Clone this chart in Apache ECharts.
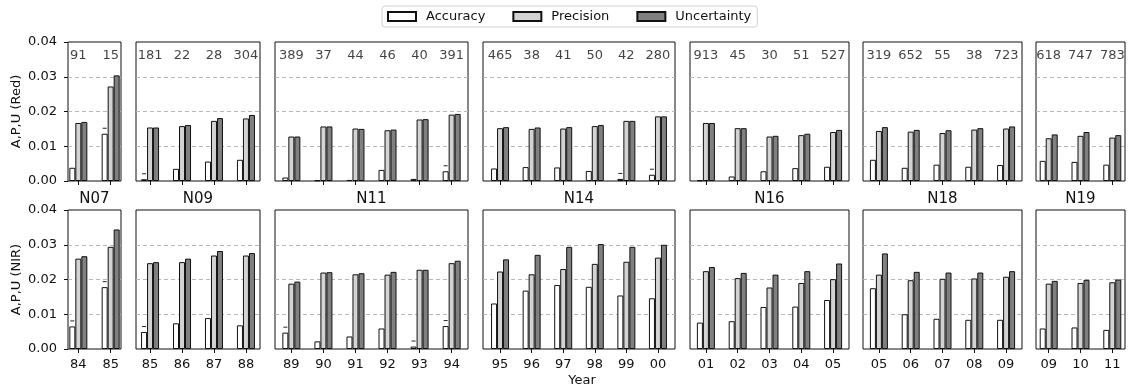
<!DOCTYPE html>
<html>
<head>
<meta charset="utf-8">
<script src="https://cdn.jsdelivr.net/npm/echarts@6/dist/echarts.min.js"></script>
<style>
  html, body { margin: 0; padding: 0; background: #fff; }
  #chart { width: 1133px; height: 390px; }
</style>
</head>
<body>
<div id="chart"></div>
<script>
// Sensors and the years each one covers
const satellites = ['N07', 'N09', 'N11', 'N14', 'N16', 'N18', 'N19'];
const yearLabels = [
  ['84', '85'],
  ['85', '86', '87', '88'],
  ['89', '90', '91', '92', '93', '94'],
  ['95', '96', '97', '98', '99', '00'],
  ['01', '02', '03', '04', '05'],
  ['05', '06', '07', '08', '09'],
  ['09', '10', '11']
];
// Number of match-ups per sensor-year
const matchupCounts = [
  [91, 15],
  [181, 22, 28, 304],
  [389, 37, 44, 46, 40, 391],
  [465, 38, 41, 50, 42, 280],
  [913, 45, 30, 51, 527],
  [319, 652, 55, 38, 723],
  [618, 747, 783]
];
// Red band. A negative accuracy (bias) is drawn at its magnitude with a minus tick above it.
const redAccuracy = [
  [0.0038, -0.0136],
  [-0.0005, 0.0035, 0.0056, 0.0061],
  [0.0010, 0.0002, 0.0003, 0.0032, 0.0006, -0.0028],
  [0.0036, 0.0040, 0.0039, 0.0029, -0.0006, -0.0018],
  [0.0002, 0.0013, 0.0028, 0.0037, 0.0041],
  [0.0061, 0.0038, 0.0047, 0.0041, 0.0046],
  [0.0058, 0.0055, 0.0047]
];
const redPrecision = [
  [0.0167, 0.0272],
  [0.0154, 0.0158, 0.0173, 0.0180],
  [0.0128, 0.0157, 0.0151, 0.0146, 0.0177, 0.0191],
  [0.0152, 0.0150, 0.0151, 0.0158, 0.0173, 0.0186],
  [0.0167, 0.0152, 0.0128, 0.0132, 0.0141],
  [0.0144, 0.0142, 0.0138, 0.0148, 0.0151],
  [0.0123, 0.0130, 0.0125]
];
const redUncertainty = [
  [0.0170, 0.0304],
  [0.0154, 0.0161, 0.0181, 0.0190],
  [0.0128, 0.0157, 0.0150, 0.0148, 0.0178, 0.0193],
  [0.0155, 0.0154, 0.0155, 0.0161, 0.0173, 0.0186],
  [0.0167, 0.0152, 0.0130, 0.0136, 0.0147],
  [0.0155, 0.0147, 0.0146, 0.0152, 0.0157],
  [0.0134, 0.0141, 0.0132]
];
// Near-infrared band
const nirAccuracy = [
  [-0.0065, -0.0178],
  [-0.0049, 0.0074, 0.0089, 0.0068],
  [-0.0047, 0.0022, 0.0036, 0.0059, -0.0007, -0.0066],
  [0.0131, 0.0168, 0.0184, 0.0179, 0.0154, 0.0146],
  [0.0076, 0.0080, 0.0121, 0.0122, 0.0141],
  [0.0175, 0.0100, 0.0087, 0.0084, 0.0084],
  [0.0059, 0.0062, 0.0055]
];
const nirPrecision = [
  [0.0260, 0.0294],
  [0.0247, 0.0250, 0.0269, 0.0269],
  [0.0188, 0.0220, 0.0215, 0.0214, 0.0228, 0.0247],
  [0.0223, 0.0215, 0.0230, 0.0245, 0.0251, 0.0263],
  [0.0224, 0.0204, 0.0177, 0.0190, 0.0201],
  [0.0214, 0.0198, 0.0202, 0.0203, 0.0208],
  [0.0188, 0.0190, 0.0192]
];
const nirUncertainty = [
  [0.0267, 0.0344],
  [0.0250, 0.0260, 0.0282, 0.0276],
  [0.0194, 0.0221, 0.0218, 0.0222, 0.0228, 0.0254],
  [0.0258, 0.0271, 0.0294, 0.0302, 0.0294, 0.0300],
  [0.0236, 0.0219, 0.0214, 0.0224, 0.0246],
  [0.0275, 0.0222, 0.0220, 0.0220, 0.0224],
  [0.0196, 0.0199, 0.0200]
];
const rowNames = ['A,P,U (Red)', 'A,P,U (NIR)'];
const seriesNames = ['Accuracy', 'Precision', 'Uncertainty'];

// Panel geometry (pixels) and x padding (in years) on each side
const panelLeft = [68, 136, 275, 483, 690, 863, 1036];
const panelWidth = [53, 124, 193, 192, 159, 159, 89];
const panelPad = [0.32, 0.44, 0.51, 0.54, 0.5, 0.5, 0.4];
const rowTop = [42, 210];
const rowHeight = 139;
const COUNT_LABEL_Y = 0.0362;

const FONT = 'DejaVu Sans';
const fills = ['#ffffff', '#d3d3d3', '#808080'];

const rows = [
  [redAccuracy, redPrecision, redUncertainty],
  [nirAccuracy, nirPrecision, nirUncertainty]
];

const grids = [], xAxes = [], yAxes = [], series = [];

rows.forEach((rowData, r) => {
  satellites.forEach((sat, p) => {
    const g = grids.length;
    const n = yearLabels[p].length;
    const idx = yearLabels[p].map((_, i) => i);
    grids.push({
      left: panelLeft[p], top: rowTop[r], width: panelWidth[p], height: rowHeight,
      show: true, borderColor: '#111', borderWidth: 1, backgroundColor: 'transparent'
    });
    xAxes.push({
      gridIndex: g, type: 'value', position: 'bottom',
      min: -panelPad[p], max: n - 1 + panelPad[p],
      axisLine: { show: false, onZero: false },
      splitLine: { show: false },
      axisTick: { show: true, customValues: idx, length: 4, lineStyle: { color: '#111' } },
      axisLabel: {
        show: r === 1, customValues: idx, margin: 9,
        formatter: v => yearLabels[p][Math.round(v)],
        fontFamily: FONT, fontSize: 13, color: '#111'
      },
      name: r === 0 ? sat : '',
      nameLocation: 'middle', nameGap: 11,
      nameTextStyle: { fontFamily: FONT, fontSize: 15, color: '#111', verticalAlign: 'top' }
    });
    yAxes.push({
      gridIndex: g, type: 'value', position: 'left', min: 0, max: 0.04, interval: 0.01,
      axisLine: { show: false, onZero: false },
      axisTick: { show: p === 0, length: 4, lineStyle: { color: '#111' } },
      axisLabel: {
        show: p === 0, margin: 11, formatter: v => v.toFixed(2),
        fontFamily: FONT, fontSize: 13, color: '#111'
      },
      splitLine: {
        show: true, showMinLine: false, showMaxLine: false,
        lineStyle: { type: [4, 3], color: '#b8b8b8', width: 1 }
      },
      name: p === 0 ? rowNames[r] : '',
      nameLocation: 'middle', nameGap: 45,
      nameTextStyle: { fontFamily: FONT, fontSize: 13, color: '#111' }
    });
    rowData.forEach((values, s) => {
      series.push({
        type: 'bar', name: seriesNames[s],
        xAxisIndex: g, yAxisIndex: g,
        barWidth: 6, barGap: '0%',
        itemStyle: { color: fills[s], borderColor: '#111', borderWidth: 1 },
        label: {
          show: false, position: 'top', distance: 5,
          formatter: '{d| }',
          rich: { d: { width: 4, height: 1, backgroundColor: '#222', fontSize: 1, lineHeight: 1 } }
        },
        emphasis: { disabled: true },
        data: values[p].map((v, i) => ({
          value: [i, Math.abs(v)],
          label: { show: v < 0 }
        }))
      });
    });
    if (r === 0) {
      series.push({
        type: 'scatter', xAxisIndex: g, yAxisIndex: g,
        symbolSize: 1, itemStyle: { color: 'rgba(0,0,0,0)' }, silent: true,
        label: {
          show: true, position: 'inside',
          formatter: d => String(matchupCounts[p][d.dataIndex]),
          fontFamily: FONT, fontSize: 13, color: '#111'
        },
        data: matchupCounts[p].map((c, i) => [i, COUNT_LABEL_Y])
      });
    }
  });
});

const chart = echarts.init(document.getElementById('chart'), null, { renderer: 'canvas' });
chart.setOption({
  animation: false,
  textStyle: { fontFamily: FONT },
  legend: {
    data: seriesNames,
    left: 382, top: 6,
    icon: 'rect', itemWidth: 28, itemHeight: 9, itemGap: 27,
    padding: [4, 6, 4, 5],
    borderColor: '#d0d0d0', borderWidth: 1, borderRadius: 3,
    textStyle: { fontFamily: FONT, fontSize: 13, color: '#111', padding: [0, 0, 0, 5] },
    selectedMode: false
  },
  graphic: [{
    type: 'text', x: 582, y: 381,
    style: { text: 'Year', fontFamily: FONT, fontSize: 13, fill: '#111', textAlign: 'center', textVerticalAlign: 'middle' }
  }],
  grid: grids,
  xAxis: xAxes,
  yAxis: yAxes,
  series: series
});
</script>
</body>
</html>
